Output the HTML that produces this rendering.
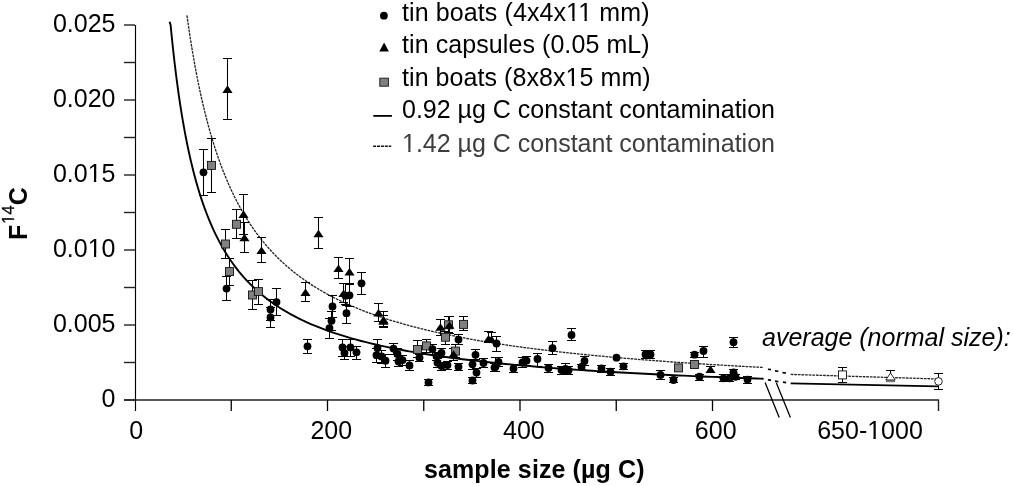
<!DOCTYPE html>
<html><head><meta charset="utf-8"><style>
html,body{margin:0;padding:0;background:#fff;}
svg{display:block;will-change:transform;}
</style></head><body>
<svg width="1013" height="486" viewBox="0 0 1013 486">
<rect width="1013" height="486" fill="#fff"/>
<g stroke="#000" stroke-width="1.3" fill="none">
<path d="M135.5,25V411" stroke-width="1.15"/>
<path d="M124,400H938.5V411" stroke-width="1.4" stroke="#222"/>
<path d="M124,400.00H135" stroke-width="1.4" stroke="#222"/>
<path d="M124,362.50H135" stroke-width="1.4" stroke="#222"/>
<path d="M124,325.00H135" stroke-width="1.4" stroke="#222"/>
<path d="M124,287.50H135" stroke-width="1.4" stroke="#222"/>
<path d="M124,250.00H135" stroke-width="1.4" stroke="#222"/>
<path d="M124,212.50H135" stroke-width="1.4" stroke="#222"/>
<path d="M124,175.00H135" stroke-width="1.4" stroke="#222"/>
<path d="M124,137.50H135" stroke-width="1.4" stroke="#222"/>
<path d="M124,100.00H135" stroke-width="1.4" stroke="#222"/>
<path d="M124,62.50H135" stroke-width="1.4" stroke="#222"/>
<path d="M124,25.00H135" stroke-width="1.4" stroke="#222"/>
<path d="M231.25,400V411"/>
<path d="M327.50,400V411"/>
<path d="M423.75,400V411"/>
<path d="M520.00,400V411"/>
<path d="M616.25,400V411"/>
<path d="M712.50,400V411"/>
</g>
<path d="M765.1,382.5L779.2,417.4 M776.3,382.7L790.4,417.4" stroke="#000" stroke-width="1.3" fill="none"/>
<path d="M169.60,21.80 L170.61,25.00 L171.09,30.00 L171.57,34.87 L172.06,39.61 L172.54,44.23 L173.02,48.73 L173.50,53.12 L173.98,57.41 L174.46,61.59 L174.94,65.66 L175.43,69.64 L175.91,73.53 L176.39,77.33 L176.87,81.03 L177.35,84.66 L177.83,88.20 L178.31,91.67 L178.79,95.05 L179.28,98.37 L179.76,101.61 L180.24,104.79 L180.72,107.89 L181.20,110.94 L181.68,113.92 L182.16,116.84 L182.64,119.70 L183.12,122.50 L183.61,125.25 L184.09,127.94 L184.57,130.58 L185.05,133.17 L185.53,135.71 L186.01,138.21 L186.49,140.65 L186.97,143.06 L187.46,145.41 L187.94,147.73 L188.42,150.00 L188.90,152.23 L189.38,154.42 L189.86,156.58 L190.34,158.70 L190.82,160.78 L191.31,162.82 L191.79,164.83 L192.27,166.81 L192.75,168.75 L193.23,170.66 L193.71,172.54 L194.19,174.39 L194.68,176.21 L195.16,178.00 L195.64,179.76 L196.12,181.50 L196.60,183.20 L197.08,184.88 L197.56,186.54 L198.04,188.17 L198.53,189.77 L199.01,191.35 L199.49,192.91 L199.97,194.44 L200.45,195.96 L200.93,197.45 L201.41,198.91 L201.89,200.36 L202.38,201.79 L202.86,203.19 L203.34,204.58 L203.82,205.94 L204.30,207.29 L204.78,208.62 L205.26,209.93 L205.74,211.22 L206.23,212.50 L206.71,213.76 L207.19,215.00 L207.67,216.23 L208.15,217.43 L208.63,218.63 L209.11,219.81 L209.59,220.97 L210.07,222.12 L210.56,223.25 L211.04,224.37 L211.52,225.47 L212.00,226.56 L213.93,230.79 L215.85,234.82 L217.78,238.66 L219.70,242.33 L221.62,245.83 L223.55,249.18 L225.48,252.39 L227.40,255.47 L229.32,258.42 L231.25,261.25 L233.18,263.97 L235.10,266.59 L237.03,269.10 L238.95,271.53 L240.88,273.86 L242.80,276.12 L244.73,278.29 L246.65,280.39 L248.57,282.42 L250.50,284.38 L252.43,286.27 L254.35,288.10 L256.27,289.88 L258.20,291.60 L260.12,293.27 L262.05,294.89 L263.98,296.46 L265.90,297.98 L267.83,299.46 L269.75,300.89 L271.68,302.29 L273.60,303.65 L275.52,304.97 L277.45,306.25 L279.38,307.50 L281.30,308.72 L283.23,309.90 L285.15,311.06 L287.08,312.18 L289.00,313.28 L290.93,314.35 L292.85,315.40 L294.77,316.42 L296.70,317.41 L298.62,318.38 L300.55,319.33 L302.48,320.26 L304.40,321.16 L306.33,322.05 L308.25,322.92 L310.18,323.76 L312.10,324.59 L314.02,325.40 L315.95,326.20 L317.88,326.97 L319.80,327.73 L321.73,328.48 L323.65,329.21 L325.58,329.92 L327.50,330.62 L332.31,332.32 L337.12,333.93 L341.94,335.47 L346.75,336.93 L351.56,338.33 L356.38,339.67 L361.19,340.96 L366.00,342.19 L370.81,343.37 L375.62,344.50 L380.44,345.59 L385.25,346.63 L390.06,347.64 L394.88,348.61 L399.69,349.55 L404.50,350.45 L409.31,351.32 L414.12,352.16 L418.94,352.97 L423.75,353.75 L428.56,354.51 L433.38,355.24 L438.19,355.95 L443.00,356.64 L447.81,357.31 L452.62,357.95 L457.44,358.58 L462.25,359.19 L467.06,359.78 L471.88,360.36 L476.69,360.92 L481.50,361.46 L486.31,361.99 L491.12,362.50 L495.94,363.00 L500.75,363.49 L505.56,363.96 L510.38,364.42 L515.19,364.87 L520.00,365.31 L524.81,365.74 L529.62,366.16 L534.44,366.57 L539.25,366.96 L544.06,367.35 L548.88,367.73 L553.69,368.10 L558.50,368.47 L563.31,368.82 L568.12,369.17 L572.94,369.51 L577.75,369.84 L582.56,370.16 L587.38,370.48 L592.19,370.79 L597.00,371.09 L601.81,371.39 L606.62,371.68 L611.44,371.97 L616.25,372.25 L621.06,372.52 L625.88,372.79 L630.69,373.06 L635.50,373.32 L640.31,373.57 L645.12,373.82 L649.94,374.07 L654.75,374.31 L659.56,374.54 L664.38,374.77 L669.19,375.00 L674.00,375.22 L678.81,375.44 L683.62,375.66 L688.44,375.87 L693.25,376.08 L698.06,376.28 L702.88,376.48 L707.69,376.68 L712.50,376.88 L717.31,377.07 L722.12,377.25 L726.94,377.44 L731.75,377.62 L736.56,377.80 L741.38,377.98 L746.19,378.15 L751.00,378.32 L755.81,378.49 L760.62,378.65 L763.60,378.75" stroke="#000" stroke-width="1.9" fill="none"/>
<path d="M187.00,15.40 L186.97,15.66 L187.46,19.10 L187.94,22.47 L188.42,25.79 L188.90,29.05 L189.38,32.25 L189.86,35.40 L190.34,38.49 L190.82,41.53 L191.31,44.53 L191.79,47.47 L192.27,50.36 L192.75,53.21 L193.23,56.01 L193.71,58.76 L194.19,61.47 L194.68,64.14 L195.16,66.77 L195.64,69.36 L196.12,71.90 L196.60,74.41 L197.08,76.88 L197.56,79.31 L198.04,81.71 L198.53,84.07 L199.01,86.40 L199.49,88.69 L199.97,90.95 L200.45,93.17 L200.93,95.37 L201.41,97.53 L201.89,99.66 L202.38,101.76 L202.86,103.84 L203.34,105.88 L203.82,107.90 L204.30,109.89 L204.78,111.85 L205.26,113.79 L205.74,115.70 L206.23,117.58 L206.71,119.44 L207.19,121.28 L207.67,123.09 L208.15,124.88 L208.63,126.64 L209.11,128.39 L209.59,130.11 L210.07,131.81 L210.56,133.48 L211.04,135.14 L211.52,136.78 L212.00,138.39 L213.93,144.67 L215.85,150.64 L217.78,156.35 L219.70,161.80 L221.62,167.01 L223.55,172.00 L225.48,176.78 L227.40,181.36 L229.32,185.76 L231.25,189.98 L233.18,194.04 L235.10,197.95 L237.03,201.71 L238.95,205.34 L240.88,208.83 L242.80,212.20 L244.73,215.46 L246.65,218.60 L248.57,221.64 L250.50,224.58 L252.43,227.42 L254.35,230.17 L256.27,232.84 L258.20,235.42 L260.12,237.92 L262.05,240.35 L263.98,242.71 L265.90,245.00 L267.83,247.22 L269.75,249.38 L271.68,251.49 L273.60,253.53 L275.52,255.51 L277.45,257.45 L279.38,259.33 L281.30,261.17 L283.23,262.95 L285.15,264.69 L287.08,266.39 L289.00,268.05 L290.93,269.66 L292.85,271.24 L294.77,272.78 L296.70,274.28 L298.62,275.74 L300.55,277.18 L302.48,278.58 L304.40,279.95 L306.33,281.28 L308.25,282.59 L310.18,283.87 L312.10,285.13 L314.02,286.35 L315.95,287.55 L317.88,288.73 L319.80,289.88 L321.73,291.00 L323.65,292.11 L325.58,293.19 L327.50,294.25 L332.31,296.81 L337.12,299.25 L341.94,301.58 L346.75,303.80 L351.56,305.93 L356.38,307.96 L361.19,309.91 L366.00,311.77 L370.81,313.56 L375.62,315.28 L380.44,316.93 L385.25,318.52 L390.06,320.05 L394.88,321.52 L399.69,322.94 L404.50,324.31 L409.31,325.63 L414.12,326.91 L418.94,328.14 L423.75,329.33 L428.56,330.49 L433.38,331.60 L438.19,332.68 L443.00,333.73 L447.81,334.75 L452.62,335.73 L457.44,336.69 L462.25,337.61 L467.06,338.51 L471.88,339.39 L476.69,340.24 L481.50,341.07 L486.31,341.87 L491.12,342.65 L495.94,343.41 L500.75,344.16 L505.56,344.88 L510.38,345.58 L515.19,346.27 L520.00,346.94 L524.81,347.59 L529.62,348.23 L534.44,348.85 L539.25,349.46 L544.06,350.05 L548.88,350.63 L553.69,351.19 L558.50,351.75 L563.31,352.29 L568.12,352.82 L572.94,353.33 L577.75,353.84 L582.56,354.33 L587.38,354.82 L592.19,355.29 L597.00,355.76 L601.81,356.21 L606.62,356.66 L611.44,357.09 L616.25,357.52 L621.06,357.94 L625.88,358.35 L630.69,358.75 L635.50,359.15 L640.31,359.54 L645.12,359.92 L649.94,360.29 L654.75,360.66 L659.56,361.02 L664.38,361.37 L669.19,361.72 L674.00,362.06 L678.81,362.40 L683.62,362.72 L688.44,363.05 L693.25,363.37 L698.06,363.68 L702.88,363.98 L707.69,364.29 L712.50,364.58 L717.31,364.88 L722.12,365.16 L726.94,365.45 L731.75,365.72 L736.56,366.00 L741.38,366.27 L746.19,366.53 L751.00,366.79 L755.81,367.05 L760.62,367.30 L763.60,367.46" stroke="#222" stroke-width="1.3" stroke-dasharray="2.7,0.9" fill="none"/>
<path d="M790.7,383.3 L938,386.4" stroke="#000" stroke-width="1.8" fill="none"/>
<path d="M790.7,374.4 L938,379" stroke="#222" stroke-width="1.3" stroke-dasharray="2.7,0.9" fill="none"/>
<path d="M767.9,379.9L771,380.2 M775,381.2L778.4,381.6 M783,382.2L786.2,382.7 M786.2,382.7" stroke="#000" stroke-width="1.8" fill="none"/>
<path d="M767.9,369.3L771,369.6 M775,370.9L778.4,371.3 M782.5,372.6L786,373 M790,374.2" stroke="#000" stroke-width="1.6" fill="none"/>
<g font-family='"Liberation Sans", sans-serif' font-size="25" fill="#000">
<text x="115.5" y="406.5" text-anchor="end">0</text>
<text x="115.5" y="331.5" text-anchor="end">0.005</text>
<text x="115.5" y="256.5" text-anchor="end">0.010</text>
<text x="115.5" y="181.5" text-anchor="end">0.015</text>
<text x="115.5" y="106.5" text-anchor="end">0.020</text>
<text x="115.5" y="31.5" text-anchor="end">0.025</text>
<text x="136.3" y="439.3" text-anchor="middle">0</text>
<text x="331.3" y="439.3" text-anchor="middle">200</text>
<text x="523.9" y="439.3" text-anchor="middle">400</text>
<text x="715.7" y="439.3" text-anchor="middle">600</text>
<text x="870" y="439.3" text-anchor="middle">650-1000</text>
<text x="402" y="20.5" fill="#000" textLength="247.5" lengthAdjust="spacing">tin boats (4x4x11 mm)</text>
<text x="402" y="53.0" fill="#000" textLength="247.6" lengthAdjust="spacing">tin capsules (0.05 mL)</text>
<text x="402" y="85.5" fill="#000" textLength="248.6" lengthAdjust="spacing">tin boats (8x8x15 mm)</text>
<text x="402" y="118.0" fill="#000">0.92 µg C constant contamination</text>
<text x="402" y="151.5" fill="#3d3d3d">1.42 µg C constant contamination</text>
<text x="762" y="345.8" font-style="italic">average (normal size):</text>
<text x="424" y="478" font-weight="bold" textLength="220.5" lengthAdjust="spacing">sample size (µg C)</text>
</g>
<text transform="translate(27,239.9) rotate(-90)" font-family='"Liberation Sans", sans-serif' font-size="25" font-weight="bold"><tspan x="0" y="0">F</tspan><tspan x="15.8" y="-12.9" font-size="17" font-weight="normal" stroke="#000" stroke-width="0.3">14</tspan><tspan x="34.7" y="0">C</tspan></text>
<g fill="#fff"><rect x="88.79" y="253.93" width="5.15" height="3.47"/><rect x="96.22" y="253.93" width="5.14" height="3.47"/><rect x="88.79" y="178.93" width="5.15" height="3.47"/><rect x="96.22" y="178.93" width="5.14" height="3.47"/><rect x="868.30" y="436.73" width="5.15" height="3.47"/><rect x="875.74" y="436.73" width="5.14" height="3.47"/><rect x="567.20" y="17.93" width="5.15" height="3.47"/><rect x="574.64" y="17.93" width="5.14" height="3.47"/><rect x="579.36" y="17.93" width="5.15" height="3.47"/><rect x="586.80" y="17.93" width="5.14" height="3.47"/><rect x="566.65" y="82.93" width="5.15" height="3.47"/><rect x="574.08" y="82.93" width="5.14" height="3.47"/><rect x="403.10" y="148.93" width="5.15" height="3.47"/><rect x="410.53" y="148.93" width="5.14" height="3.47"/></g>
<g fill="#fff" transform="translate(27,239.9) rotate(-90)"><rect x="16.55" y="-14.87" width="3.50" height="2.87"/><rect x="21.60" y="-14.87" width="3.49" height="2.87"/></g>
<circle cx="383.9" cy="15.7" r="3.9" fill="#000"/>
<path d="M379.3,51.5L384.1,42.6L388.9,51.5Z" fill="#000"/>
<rect x="379.8" y="78.2" width="8.6" height="8" fill="#808080" stroke="#222" stroke-width="1"/>
<path d="M373.3,115.9H391.9" stroke="#000" stroke-width="1.8"/>
<path d="M373.1,146.3H391.2" stroke="#111" stroke-width="1.4" stroke-dasharray="3,0.9"/>
<path d="M227.5,58.5V119.5 M223.0,58.5H232.0 M223.0,119.5H232.0 M203.5,149.5V195.5 M199.0,149.5H208.0 M199.0,195.5H208.0 M211.5,138.5V192.5 M207.0,138.5H216.0 M207.0,192.5H216.0 M243.5,194.5V234.5 M239.0,194.5H248.0 M239.0,234.5H248.0 M244.5,222.5V252.5 M240.0,222.5H249.0 M240.0,252.5H249.0 M236.5,209.5V238.5 M232.0,209.5H241.0 M232.0,238.5H241.0 M225.5,229.5V258.5 M221.0,229.5H230.0 M221.0,258.5H230.0 M261.5,237.5V262.5 M257.0,237.5H266.0 M257.0,262.5H266.0 M229.5,258.5V285.5 M225.0,258.5H234.0 M225.0,285.5H234.0 M226.5,276.5V300.5 M222.0,276.5H231.0 M222.0,300.5H231.0 M252.5,280.5V309.5 M248.0,280.5H257.0 M248.0,309.5H257.0 M258.5,279.5V304.5 M254.0,279.5H263.0 M254.0,304.5H263.0 M276.5,288.5V315.5 M272.0,288.5H281.0 M272.0,315.5H281.0 M270.5,299.5V320.5 M266.0,299.5H275.0 M266.0,320.5H275.0 M270.5,307.5V327.5 M266.0,307.5H275.0 M266.0,327.5H275.0 M318.5,217.5V248.5 M314.0,217.5H323.0 M314.0,248.5H323.0 M305.5,282.5V301.5 M301.0,282.5H310.0 M301.0,301.5H310.0 M338.5,257.5V278.5 M334.0,257.5H343.0 M334.0,278.5H343.0 M349.5,258.5V284.5 M345.0,258.5H354.0 M345.0,284.5H354.0 M361.5,272.5V294.5 M357.0,272.5H366.0 M357.0,294.5H366.0 M343.5,283.5V302.5 M339.0,283.5H348.0 M339.0,302.5H348.0 M345.5,283.5V304.5 M341.0,283.5H350.0 M341.0,304.5H350.0 M349.5,283.5V306.5 M345.0,283.5H354.0 M345.0,306.5H354.0 M346.5,305.5V323.5 M342.0,305.5H351.0 M342.0,323.5H351.0 M332.5,295.5V317.5 M328.0,295.5H337.0 M328.0,317.5H337.0 M331.5,311.5V330.5 M327.0,311.5H336.0 M327.0,330.5H336.0 M329.5,318.5V338.5 M325.0,318.5H334.0 M325.0,338.5H334.0 M307.5,339.5V353.5 M303.0,339.5H312.0 M303.0,353.5H312.0 M342.5,339.5V356.5 M338.0,339.5H347.0 M338.0,356.5H347.0 M344.5,346.5V359.5 M340.0,346.5H349.0 M340.0,359.5H349.0 M350.5,339.5V356.5 M346.0,339.5H355.0 M346.0,356.5H355.0 M356.5,346.5V359.5 M352.0,346.5H361.0 M352.0,359.5H361.0 M377.5,339.5V356.5 M373.0,339.5H382.0 M373.0,356.5H382.0 M376.5,348.5V362.5 M372.0,348.5H381.0 M372.0,362.5H381.0 M381.5,350.5V363.5 M377.0,350.5H386.0 M377.0,363.5H386.0 M385.5,354.5V367.5 M381.0,354.5H390.0 M381.0,367.5H390.0 M383.5,315.5V327.5 M379.0,315.5H388.0 M379.0,327.5H388.0 M378.5,303.5V321.5 M374.0,303.5H383.0 M374.0,321.5H383.0 M383.5,311.5V326.5 M379.0,311.5H388.0 M379.0,326.5H388.0 M393.5,343.5V354.5 M389.0,343.5H398.0 M389.0,354.5H398.0 M397.5,348.5V360.5 M393.0,348.5H402.0 M393.0,360.5H402.0 M398.5,356.5V366.5 M394.0,356.5H403.0 M394.0,366.5H403.0 M402.5,355.5V365.5 M398.0,355.5H407.0 M398.0,365.5H407.0 M409.5,360.5V370.5 M405.0,360.5H414.0 M405.0,370.5H414.0 M417.5,340.5V357.5 M413.0,340.5H422.0 M413.0,357.5H422.0 M426.5,339.5V352.5 M422.0,339.5H431.0 M422.0,352.5H431.0 M419.5,354.5V361.5 M415.0,354.5H424.0 M415.0,361.5H424.0 M432.5,344.5V354.5 M428.0,344.5H437.0 M428.0,354.5H437.0 M440.5,319.5V335.5 M436.0,319.5H445.0 M436.0,335.5H445.0 M448.5,316.5V332.5 M444.0,316.5H453.0 M444.0,332.5H453.0 M449.5,316.5V333.5 M445.0,316.5H454.0 M445.0,333.5H454.0 M463.5,316.5V330.5 M459.0,316.5H468.0 M459.0,330.5H468.0 M445.5,331.5V344.5 M441.0,331.5H450.0 M441.0,344.5H450.0 M458.5,334.5V344.5 M454.0,334.5H463.0 M454.0,344.5H463.0 M488.5,331.5V342.5 M484.0,331.5H493.0 M484.0,342.5H493.0 M491.5,332.5V342.5 M487.0,332.5H496.0 M487.0,342.5H496.0 M496.5,336.5V351.5 M492.0,336.5H501.0 M492.0,351.5H501.0 M455.5,344.5V357.5 M451.0,344.5H460.0 M451.0,357.5H460.0 M453.5,348.5V360.5 M449.0,348.5H458.0 M449.0,360.5H458.0 M441.5,348.5V357.5 M437.0,348.5H446.0 M437.0,357.5H446.0 M436.5,352.5V360.5 M432.0,352.5H441.0 M432.0,360.5H441.0 M437.5,358.5V367.5 M433.0,358.5H442.0 M433.0,367.5H442.0 M441.5,362.5V370.5 M437.0,362.5H446.0 M437.0,370.5H446.0 M447.5,361.5V369.5 M443.0,361.5H452.0 M443.0,369.5H452.0 M458.5,363.5V370.5 M454.0,363.5H463.0 M454.0,370.5H463.0 M475.5,349.5V359.5 M471.0,349.5H480.0 M471.0,359.5H480.0 M472.5,359.5V369.5 M468.0,359.5H477.0 M468.0,369.5H477.0 M476.5,368.5V377.5 M472.0,368.5H481.0 M472.0,377.5H481.0 M483.5,358.5V367.5 M479.0,358.5H488.0 M479.0,367.5H488.0 M472.5,377.5V383.5 M468.0,377.5H477.0 M468.0,383.5H477.0 M428.5,379.5V385.5 M424.0,379.5H433.0 M424.0,385.5H433.0 M495.5,357.5V371.5 M491.0,357.5H500.0 M491.0,371.5H500.0 M552.5,341.5V354.5 M548.0,341.5H557.0 M548.0,354.5H557.0 M537.5,353.5V366.5 M533.0,353.5H542.0 M533.0,366.5H542.0 M526.5,356.5V365.5 M522.0,356.5H531.0 M522.0,365.5H531.0 M522.5,357.5V367.5 M518.0,357.5H527.0 M518.0,367.5H527.0 M513.5,364.5V372.5 M509.0,364.5H518.0 M509.0,372.5H518.0 M498.5,357.5V366.5 M494.0,357.5H503.0 M494.0,366.5H503.0 M494.5,363.5V371.5 M490.0,363.5H499.0 M490.0,371.5H499.0 M548.5,364.5V372.5 M544.0,364.5H553.0 M544.0,372.5H553.0 M561.5,366.5V374.5 M557.0,366.5H566.0 M557.0,374.5H566.0 M565.5,363.5V373.5 M561.0,363.5H570.0 M561.0,373.5H570.0 M568.5,366.5V374.5 M564.0,366.5H573.0 M564.0,374.5H573.0 M571.5,328.5V340.5 M567.0,328.5H576.0 M567.0,340.5H576.0 M584.5,356.5V365.5 M580.0,356.5H589.0 M580.0,365.5H589.0 M581.5,364.5V369.5 M577.0,364.5H586.0 M577.0,369.5H586.0 M601.5,365.5V372.5 M597.0,365.5H606.0 M597.0,372.5H606.0 M610.5,368.5V375.5 M606.0,368.5H615.0 M606.0,375.5H615.0 M623.5,363.5V369.5 M619.0,363.5H628.0 M619.0,369.5H628.0 M645.5,350.5V358.5 M641.0,350.5H650.0 M641.0,358.5H650.0 M650.5,350.5V358.5 M646.0,350.5H655.0 M646.0,358.5H655.0 M660.5,370.5V379.5 M656.0,370.5H665.0 M656.0,379.5H665.0 M673.5,377.5V382.5 M669.0,377.5H678.0 M669.0,382.5H678.0 M694.5,352.5V357.5 M690.0,352.5H699.0 M690.0,357.5H699.0 M699.5,374.5V380.5 M695.0,374.5H704.0 M695.0,380.5H704.0 M703.5,346.5V357.5 M699.0,346.5H708.0 M699.0,357.5H708.0 M710.5,366.5V372.5 M706.0,366.5H715.0 M706.0,372.5H715.0 M733.5,337.5V347.5 M729.0,337.5H738.0 M729.0,347.5H738.0 M723.5,374.5V381.5 M719.0,374.5H728.0 M719.0,381.5H728.0 M729.5,374.5V381.5 M725.0,374.5H734.0 M725.0,381.5H734.0 M733.5,369.5V375.5 M729.0,369.5H738.0 M729.0,375.5H738.0 M735.5,374.5V379.5 M731.0,374.5H740.0 M731.0,379.5H740.0 M747.5,376.5V383.5 M743.0,376.5H752.0 M743.0,383.5H752.0 M842.5,367.5V382.5 M838.0,367.5H847.0 M838.0,382.5H847.0 M890.5,370.5V381.5 M886.0,370.5H895.0 M886.0,381.5H895.0 M938.5,373.5V389.5 M934.0,373.5H943.0 M934.0,389.5H943.0" stroke="#000" stroke-width="1.05" fill="none"/>
<rect x="886.2" y="379.2" width="8.4" height="3.1" fill="#888"/>
<path d="M222.4,92.9L227.5,85.3L232.6,92.9Z" fill="#000"/>
<circle cx="203.5" cy="172.3" r="3.9" fill="#000"/>
<rect x="207.5" y="161.4" width="8" height="8" fill="#808080" stroke="#111" stroke-width="0.9"/>
<path d="M238.4,217.9L243.5,210.3L248.6,217.9Z" fill="#000"/>
<path d="M239.4,241.3L244.5,233.7L249.6,241.3Z" fill="#000"/>
<rect x="232.5" y="220.3" width="8" height="8" fill="#808080" stroke="#111" stroke-width="0.9"/>
<rect x="221.5" y="240.0" width="8" height="8" fill="#808080" stroke="#111" stroke-width="0.9"/>
<path d="M256.4,254.0L261.5,246.4L266.6,254.0Z" fill="#000"/>
<rect x="225.5" y="267.6" width="8" height="8" fill="#808080" stroke="#111" stroke-width="0.9"/>
<circle cx="226.5" cy="288.6" r="3.9" fill="#000"/>
<rect x="248.5" y="291.0" width="8" height="8" fill="#808080" stroke="#111" stroke-width="0.9"/>
<rect x="254.5" y="287.6" width="8" height="8" fill="#808080" stroke="#111" stroke-width="0.9"/>
<circle cx="276.5" cy="302.1" r="3.9" fill="#000"/>
<circle cx="270.5" cy="309.5" r="3.9" fill="#000"/>
<circle cx="270.5" cy="317.5" r="3.9" fill="#000"/>
<path d="M313.4,237.3L318.5,229.7L323.6,237.3Z" fill="#000"/>
<path d="M300.4,296.1L305.5,288.5L310.6,296.1Z" fill="#000"/>
<path d="M333.4,272.1L338.5,264.5L343.6,272.1Z" fill="#000"/>
<path d="M344.4,275.6L349.5,268.0L354.6,275.6Z" fill="#000"/>
<circle cx="361.5" cy="283.3" r="3.9" fill="#000"/>
<path d="M338.4,297.0L343.5,289.4L348.6,297.0Z" fill="#000"/>
<circle cx="345.5" cy="295.7" r="3.9" fill="#000"/>
<circle cx="349.5" cy="295.3" r="3.9" fill="#000"/>
<circle cx="346.5" cy="313.2" r="3.9" fill="#000"/>
<circle cx="332.5" cy="306.4" r="3.9" fill="#000"/>
<circle cx="331.5" cy="320.7" r="3.9" fill="#000"/>
<circle cx="329.5" cy="328.1" r="3.9" fill="#000"/>
<circle cx="307.5" cy="346.3" r="3.9" fill="#000"/>
<circle cx="342.5" cy="347.4" r="3.9" fill="#000"/>
<circle cx="344.5" cy="353.1" r="3.9" fill="#000"/>
<circle cx="350.5" cy="347.4" r="3.9" fill="#000"/>
<circle cx="356.5" cy="352.3" r="3.9" fill="#000"/>
<circle cx="377.5" cy="348.1" r="3.9" fill="#000"/>
<circle cx="376.5" cy="355.2" r="3.9" fill="#000"/>
<circle cx="381.5" cy="356.4" r="3.9" fill="#000"/>
<circle cx="385.5" cy="360.7" r="3.9" fill="#000"/>
<path d="M378.4,324.8L383.5,317.2L388.6,324.8Z" fill="#000"/>
<path d="M373.4,316.6L378.5,309.0L383.6,316.6Z" fill="#000"/>
<path d="M378.4,323.6L383.5,316.0L388.6,323.6Z" fill="#000"/>
<circle cx="393.5" cy="348.6" r="3.9" fill="#000"/>
<circle cx="397.5" cy="354.0" r="3.9" fill="#000"/>
<circle cx="398.5" cy="361.4" r="3.9" fill="#000"/>
<circle cx="402.5" cy="360.1" r="3.9" fill="#000"/>
<circle cx="409.5" cy="365.4" r="3.9" fill="#000"/>
<rect x="413.5" y="345.5" width="8" height="8" fill="#808080" stroke="#111" stroke-width="0.9"/>
<rect x="422.5" y="341.9" width="8" height="8" fill="#808080" stroke="#111" stroke-width="0.9"/>
<circle cx="419.5" cy="357.7" r="3.9" fill="#000"/>
<circle cx="432.5" cy="349.1" r="3.9" fill="#000"/>
<path d="M435.4,330.8L440.5,323.2L445.6,330.8Z" fill="#000"/>
<rect x="444.5" y="320.8" width="8" height="8" fill="#808080" stroke="#111" stroke-width="0.9"/>
<path d="M444.4,328.8L449.5,321.2L454.6,328.8Z" fill="#000"/>
<rect x="459.5" y="320.4" width="8" height="8" fill="#808080" stroke="#111" stroke-width="0.9"/>
<rect x="441.5" y="333.2" width="8" height="8" fill="#808080" stroke="#111" stroke-width="0.9"/>
<circle cx="458.5" cy="339.6" r="3.9" fill="#000"/>
<path d="M483.4,342.6L488.5,335.0L493.6,342.6Z" fill="#000"/>
<path d="M486.4,343.1L491.5,335.5L496.6,343.1Z" fill="#000"/>
<circle cx="496.5" cy="343.5" r="3.9" fill="#000"/>
<rect x="451.5" y="347.1" width="8" height="8" fill="#808080" stroke="#111" stroke-width="0.9"/>
<path d="M448.4,357.8L453.5,350.2L458.6,357.8Z" fill="#000"/>
<circle cx="441.5" cy="352.8" r="3.9" fill="#000"/>
<circle cx="436.5" cy="356.1" r="3.9" fill="#000"/>
<circle cx="437.5" cy="362.7" r="3.9" fill="#000"/>
<circle cx="441.5" cy="366.0" r="3.9" fill="#000"/>
<circle cx="447.5" cy="365.1" r="3.9" fill="#000"/>
<circle cx="458.5" cy="366.8" r="3.9" fill="#000"/>
<circle cx="475.5" cy="354.8" r="3.9" fill="#000"/>
<circle cx="472.5" cy="364.3" r="3.9" fill="#000"/>
<circle cx="476.5" cy="372.6" r="3.9" fill="#000"/>
<circle cx="483.5" cy="363.0" r="3.9" fill="#000"/>
<circle cx="472.5" cy="380.5" r="3.9" fill="#000"/>
<circle cx="428.5" cy="382.4" r="3.9" fill="#000"/>
<circle cx="495.5" cy="366.8" r="3.9" fill="#000"/>
<circle cx="552.5" cy="348.2" r="3.9" fill="#000"/>
<circle cx="537.5" cy="359.0" r="3.9" fill="#000"/>
<circle cx="526.5" cy="360.7" r="3.9" fill="#000"/>
<circle cx="522.5" cy="362.3" r="3.9" fill="#000"/>
<circle cx="513.5" cy="368.4" r="3.9" fill="#000"/>
<circle cx="498.5" cy="361.9" r="3.9" fill="#000"/>
<circle cx="494.5" cy="367.6" r="3.9" fill="#000"/>
<circle cx="548.5" cy="368.0" r="3.9" fill="#000"/>
<circle cx="561.5" cy="370.0" r="3.9" fill="#000"/>
<circle cx="565.5" cy="369.0" r="3.9" fill="#000"/>
<circle cx="568.5" cy="370.5" r="3.9" fill="#000"/>
<circle cx="571.5" cy="335.0" r="3.9" fill="#000"/>
<circle cx="584.5" cy="361.0" r="3.9" fill="#000"/>
<circle cx="581.5" cy="366.8" r="3.9" fill="#000"/>
<circle cx="616.5" cy="357.7" r="3.9" fill="#000"/>
<circle cx="601.5" cy="368.4" r="3.9" fill="#000"/>
<circle cx="610.5" cy="371.7" r="3.9" fill="#000"/>
<circle cx="623.5" cy="366.3" r="3.9" fill="#000"/>
<circle cx="645.5" cy="354.5" r="3.9" fill="#000"/>
<circle cx="650.5" cy="354.5" r="3.9" fill="#000"/>
<circle cx="660.5" cy="374.9" r="3.9" fill="#000"/>
<circle cx="673.5" cy="380.0" r="3.9" fill="#000"/>
<rect x="674.5" y="363.9" width="8" height="8" fill="#808080" stroke="#111" stroke-width="0.9"/>
<circle cx="694.5" cy="354.7" r="3.9" fill="#000"/>
<rect x="690.5" y="360.5" width="8" height="8" fill="#808080" stroke="#111" stroke-width="0.9"/>
<circle cx="699.5" cy="376.7" r="3.9" fill="#000"/>
<circle cx="703.5" cy="351.0" r="3.9" fill="#000"/>
<path d="M705.5,372.9L710.5,365.3L715.5,372.9Z" fill="#000"/>
<circle cx="733.5" cy="342.2" r="3.9" fill="#000"/>
<circle cx="723.5" cy="378.3" r="3.9" fill="#000"/>
<circle cx="729.5" cy="378.3" r="3.9" fill="#000"/>
<circle cx="733.5" cy="372.3" r="3.9" fill="#000"/>
<circle cx="735.5" cy="376.8" r="3.9" fill="#000"/>
<circle cx="747.5" cy="379.6" r="3.9" fill="#000"/>
<rect x="838.5" y="370.9" width="8" height="8" fill="#fff" stroke="#111" stroke-width="0.9"/>
<path d="M885.8,380.0L890.5,373.0L895.2,380.0Z" fill="#fff" stroke="#111" stroke-width="0.9"/>
<circle cx="938.5" cy="381.4" r="3.8" fill="#fff" stroke="#111" stroke-width="0.9"/>
</svg>
</body></html>
